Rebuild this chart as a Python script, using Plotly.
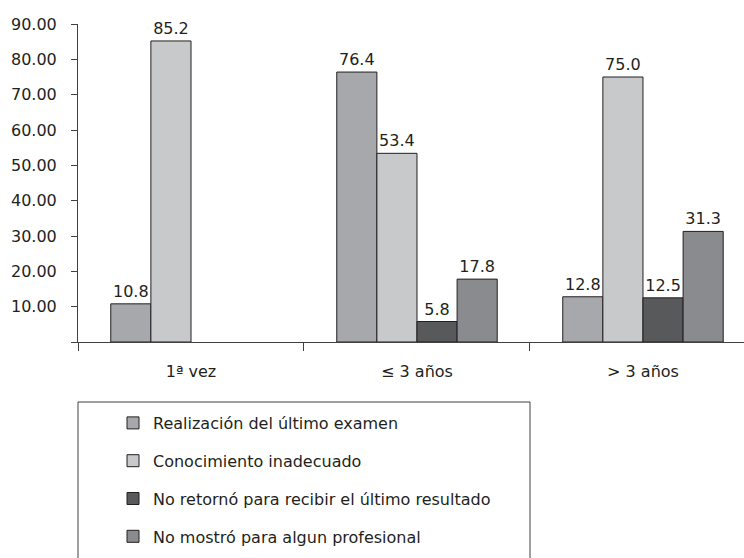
import plotly.graph_objects as go

categories = ["1ª vez", "≤ 3 años", "> 3 años"]
series_names = [
    "Realización del último examen",
    "Conocimiento inadecuado",
    "No retornó para recibir el último resultado",
    "No mostró para algun profesional",
]
realizacion = [10.8, 76.4, 12.8]
conocimiento = [85.2, 53.4, 75.0]
no_retorno = [None, 5.8, 12.5]
no_mostro = [None, 17.8, 31.3]
y_ticks = [0, 10, 20, 30, 40, 50, 60, 70, 80, 90]

series_values = [realizacion, conocimiento, no_retorno, no_mostro]
fill_colors = ["#a7a8ab", "#c8c9cb", "#58595b", "#8a8b8e"]

W, H = 744, 558
L, T, B = 78, 24, 216          # plot-area margins in px
FONT = "DejaVu Sans, Liberation Sans, Arial, sans-serif"
TEXT = "#231f20"
AXIS = "#404040"

fig = go.Figure()
for i, (name, vals, col) in enumerate(zip(series_names, series_values, fill_colors)):
    fig.add_trace(go.Bar(
        name=name,
        x=categories,
        y=vals,
        marker=dict(color=col, line=dict(color="#231f20", width=1)),
        text=[("" if v is None else f"{v:.1f}") for v in vals],
        textposition="outside",
        constraintext="none",
        textfont=dict(family=FONT, size=16, color=TEXT),
        cliponaxis=False,
        legendgroup=f"g{i}",
    ))

plot_h = H - T - B
plot_w = W - L

fig.update_layout(
    width=W, height=H,
    margin=dict(l=L, r=0, t=T, b=B, autoexpand=False),
    paper_bgcolor="white",
    plot_bgcolor="white",
    barmode="group",
    bargap=0.29,
    bargroupgap=0,
    font=dict(family=FONT, color=TEXT),
    showlegend=True,
    legend=dict(
        xref="paper", yref="paper",
        x=(113 - L) / plot_w, y=-(406 - (H - B)) / plot_h,
        xanchor="left", yanchor="top",
        font=dict(family=FONT, size=16, color=TEXT),
        tracegroupgap=14,
        traceorder="grouped",
        bgcolor="rgba(0,0,0,0)",
        borderwidth=0,
    ),
)

fig.update_xaxes(
    range=[-0.5, 2.447],
    showline=True, linecolor=AXIS, linewidth=1,
    ticks="outside", ticklen=8, tickcolor=AXIS,
    tickson="boundaries",
    ticklabelstandoff=15,
    tickfont=dict(family=FONT, size=16, color=TEXT),
    showgrid=False, zeroline=False,
)
fig.update_yaxes(
    range=[0, 90],
    tickvals=y_ticks,
    ticktext=["" if v == 0 else f"{v:.2f}" for v in y_ticks],
    showline=True, linecolor=AXIS, linewidth=1,
    ticks="outside", ticklen=6, tickcolor=AXIS,
    ticklabelstandoff=11,
    tickfont=dict(family=FONT, size=16, color=TEXT),
    showgrid=False, zeroline=False,
)

# Legend frame, open at the bottom edge of the page
fig.add_shape(
    type="rect", xref="paper", yref="paper",
    x0=0.0, x1=(530 - L) / plot_w,
    y0=-(H - (H - B) + 20) / plot_h, y1=-(402 - (H - B)) / plot_h,
    line=dict(color=AXIS, width=1),
    fillcolor="rgba(0,0,0,0)",
    layer="above",
)

fig.write_html("out.html")
